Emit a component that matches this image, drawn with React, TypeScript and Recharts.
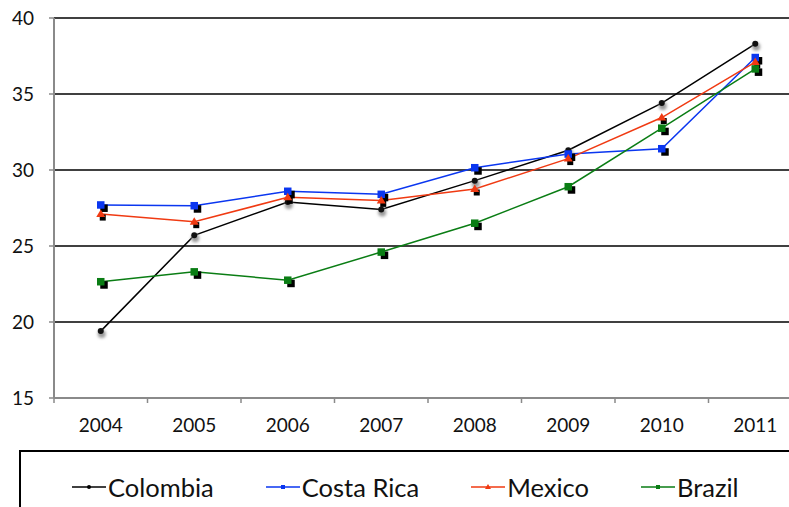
import React from "react";
import {
  LineChart,
  Line,
  XAxis,
  YAxis,
  CartesianGrid,
  Legend,
} from "recharts";

const years = ["2004", "2005", "2006", "2007", "2008", "2009", "2010", "2011"];
const colombia = [19.4, 25.7, 27.9, 27.4, 29.3, 31.3, 34.4, 38.3];
const costaRica = [27.7, 27.65, 28.6, 28.4, 30.15, 31.05, 31.4, 37.4];
const mexico = [27.1, 26.6, 28.2, 28.0, 28.75, 30.75, 33.45, 37.1];
const brazil = [22.65, 23.3, 22.75, 24.6, 26.5, 28.9, 32.75, 36.65];
const yTicks = [15, 20, 25, 30, 35, 40];
const seriesOrder = ["colombia", "costaRica", "mexico", "brazil"];

const W = 810;
const H = 507;
const MARGIN = { top: 18, right: 8, left: 0, bottom: 0 };
const Y_AXIS_W = 54;
const BAND = (W - MARGIN.left - MARGIN.right - Y_AXIS_W) / years.length;

const FONT = "Lato, 'DejaVu Sans', sans-serif";
const AXIS_GREY = "#8a8a8a";

const COLORS = {
  colombia: "#000000",
  costaRica: "#0a36f0",
  mexico: "#f03a12",
  brazil: "#0a7d14",
};

const data = years.map((y, i) => ({
  year: y,
  colombia: colombia[i],
  costaRica: costaRica[i],
  mexico: mexico[i],
  brazil: brazil[i],
}));

// coloured square with a hard black drop shadow
const squareDot = (color: string) => (props: any) => {
  const { cx, cy, index } = props;
  if (cx == null || cy == null) return <g key={`s-${color}-${index}`} />;
  return (
    <g key={`s-${color}-${index}`}>
      <rect x={cx - 0.5} y={cy - 0.5} width={7.5} height={7.5} fill="#000" />
      <rect x={cx - 3.75} y={cy - 3.75} width={7.5} height={7.5} fill={color} />
    </g>
  );
};

const triangleDot = (color: string) => (props: any) => {
  const { cx, cy, index } = props;
  if (cx == null || cy == null) return <g key={`t-${index}`} />;
  return (
    <g key={`t-${index}`}>
      <rect x={cx - 1} y={cy + 0.5} width={6} height={6} fill="#000" />
      <path
        d={`M${cx},${cy - 4.5} L${cx + 4.5},${cy + 3} L${cx - 4.5},${cy + 3} Z`}
        fill={color}
      />
    </g>
  );
};

const circleDot = (props: any) => {
  const { cx, cy, index } = props;
  if (cx == null || cy == null) return <g key={`c-${index}`} />;
  return (
    <g key={`c-${index}`}>
      <circle cx={cx + 1} cy={cy + 3} r={4} fill="#9a9a9a" filter="url(#blurShadow)" />
      <circle cx={cx} cy={cy} r={3} fill="#111" />
    </g>
  );
};

// label at band centre, tick mark at band boundary
const XTick = (props: any) => {
  const { x, y, payload } = props;
  const left = x - BAND / 2;
  return (
    <g>
      <line x1={left} y1={y} x2={left} y2={y + 5} stroke={AXIS_GREY} strokeWidth={1.5} />
      <text
        x={x}
        y={y + 34}
        textAnchor="middle"
        fontSize={19}
        fontFamily={FONT}
        fill="#111"
      >
        {payload.value}
      </text>
    </g>
  );
};

const legendMarker = (key: string, color: string) => {
  if (key === "colombia") return <circle cx={17} cy={5} r={2} fill={color} />;
  if (key === "mexico") return <path d="M17,2 L20,7 L14,7 Z" fill={color} />;
  return <rect x={15} y={3} width={4} height={4} fill={color} />;
};

const LegendBox = (props: any) => {
  const items = [...(props.payload || [])].sort(
    (a: any, b: any) => seriesOrder.indexOf(a.dataKey) - seriesOrder.indexOf(b.dataKey)
  );
  return (
    <div
      style={{
        boxSizing: "border-box",
        width: 800,
        height: 80,
        border: "2px solid #000",
        paddingLeft: 51,
        paddingTop: 20,
        display: "flex",
        alignItems: "flex-start",
        gap: 52,
        fontFamily: FONT,
        fontSize: 25.5,
        color: "#111",
        background: "#fff",
      }}
    >
      {items.map((p: any) => (
        <div
          key={p.dataKey}
          style={{ display: "flex", alignItems: "center", height: 30, lineHeight: "30px" }}
        >
          <svg width={34} height={10} style={{ marginRight: 2 }}>
            <line x1={0} y1={5} x2={34} y2={5} stroke={p.color} strokeWidth={1.5} />
            {legendMarker(p.dataKey, p.color)}
          </svg>
          <span>{p.value}</span>
        </div>
      ))}
    </div>
  );
};

export default function App() {
  return (
    <div
      style={{
        position: "absolute",
        left: 0,
        top: 0,
        width: 789,
        height: 507,
        overflow: "hidden",
        background: "#fff",
      }}
    >
      <LineChart width={W} height={H} data={data} margin={MARGIN} style={{ fontFamily: FONT }}>
        <defs>
          <filter id="blurShadow" x="-100%" y="-100%" width="300%" height="300%">
            <feGaussianBlur stdDeviation="1.6" />
          </filter>
        </defs>
        <CartesianGrid vertical={false} stroke="#000" strokeWidth={1.6} />
        <XAxis
          dataKey="year"
          height={52}
          padding={{ left: BAND / 2, right: BAND / 2 }}
          axisLine={{ stroke: AXIS_GREY, strokeWidth: 2 }}
          tickLine={false}
          tickSize={0}
          tickMargin={0}
          interval={0}
          tick={<XTick />}
        />
        <YAxis
          width={Y_AXIS_W}
          domain={[15, 40]}
          ticks={yTicks}
          interval={0}
          axisLine={{ stroke: AXIS_GREY, strokeWidth: 2 }}
          tickLine={{ stroke: AXIS_GREY, strokeWidth: 1.5 }}
          tickSize={5}
          tickMargin={15}
          tick={{ fontSize: 19, fill: "#111", fontFamily: FONT }}
        />
        <Legend
          verticalAlign="bottom"
          align="left"
          content={<LegendBox />}
          wrapperStyle={{ left: 19, top: 450, bottom: "auto", width: 800, height: 57 }}
        />
        <Line
          dataKey="colombia"
          name="Colombia"
          stroke={COLORS.colombia}
          strokeWidth={1.5}
          dot={circleDot}
          activeDot={false}
          isAnimationActive={false}
        />
        <Line
          dataKey="costaRica"
          name="Costa Rica"
          stroke={COLORS.costaRica}
          strokeWidth={1.5}
          dot={squareDot(COLORS.costaRica)}
          activeDot={false}
          isAnimationActive={false}
        />
        <Line
          dataKey="mexico"
          name="Mexico"
          stroke={COLORS.mexico}
          strokeWidth={1.5}
          dot={triangleDot(COLORS.mexico)}
          activeDot={false}
          isAnimationActive={false}
        />
        <Line
          dataKey="brazil"
          name="Brazil"
          stroke={COLORS.brazil}
          strokeWidth={1.5}
          dot={squareDot(COLORS.brazil)}
          activeDot={false}
          isAnimationActive={false}
        />
      </LineChart>
    </div>
  );
}
